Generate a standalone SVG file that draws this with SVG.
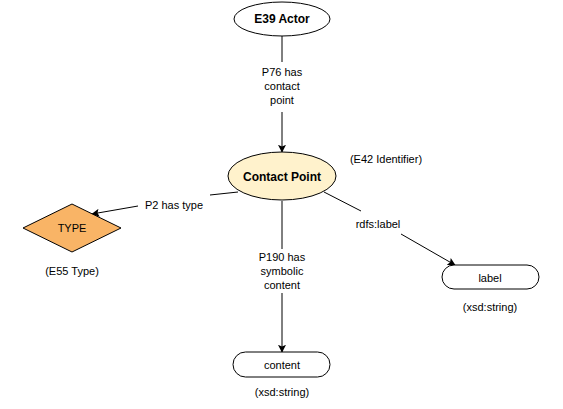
<svg xmlns="http://www.w3.org/2000/svg" width="563" height="409" viewBox="0 0 563 409">
<defs>
<style>
text{font-family:"Liberation Sans",Arial,sans-serif;font-size:11px;fill:#000;text-anchor:middle;dominant-baseline:central}
.b{font-weight:bold;font-size:12px}
.n{stroke:#000;stroke-width:1}
.e{stroke:#000;stroke-width:1;fill:none}
</style>
<marker id="arr" viewBox="0 0 10 10" refX="9" refY="5" markerWidth="8" markerHeight="8" markerUnits="userSpaceOnUse" orient="auto">
<path d="M0,0 L10,5 L0,10 L2,5 Z" fill="#000"/>
</marker>
</defs>
<rect width="563" height="409" fill="#fff"/>
<g id="connectors">
<line class="e" x1="282" y1="36" x2="282" y2="62"/>
<line class="e" x1="282" y1="112" x2="282" y2="152" marker-end="url(#arr)"/>
<text x="282" y="72">P76 has</text>
<text x="282" y="86">contact</text>
<text x="282" y="100">point</text>
<line class="e" x1="238" y1="192" x2="210" y2="195"/>
<line class="e" x1="138" y1="206" x2="92" y2="214" marker-end="url(#arr)"/>
<text x="174" y="205">P2 has type</text>
<line class="e" x1="282" y1="201" x2="282" y2="249"/>
<line class="e" x1="282" y1="293" x2="282" y2="352" marker-end="url(#arr)"/>
<text x="282" y="257">P190 has</text>
<text x="282" y="271">symbolic</text>
<text x="282" y="285">content</text>
<line class="e" x1="324" y1="192" x2="361" y2="211"/>
<line class="e" x1="401" y1="234" x2="455" y2="265" marker-end="url(#arr)"/>
<text x="378" y="224">rdfs:label</text>
</g>
<g id="actor">
<ellipse class="n" cx="282" cy="19" rx="48" ry="17" fill="#fff"/>
<text class="b" x="282" y="19">E39 Actor</text>
</g>
<g id="contactpoint">
<ellipse class="n" cx="282" cy="176" rx="54" ry="24" fill="#fff2cc"/>
<text class="b" x="282" y="177">Contact Point</text>
<text x="386" y="159">(E42 Identifier)</text>
</g>
<g id="type">
<polygon class="n" points="72,204 121,228 72,252 23,228" fill="#f9b466"/>
<text x="72" y="228">TYPE</text>
<text x="72" y="271">(E55 Type)</text>
</g>
<g id="content">
<rect class="n" x="233" y="352" width="97" height="25" rx="12.5" fill="#fff"/>
<text x="282" y="365">content</text>
<text x="282" y="392">(xsd:string)</text>
</g>
<g id="label">
<rect class="n" x="442" y="265" width="97" height="24" rx="12" fill="#fff"/>
<text x="490" y="278">label</text>
<text x="490" y="307">(xsd:string)</text>
</g>
</svg>
